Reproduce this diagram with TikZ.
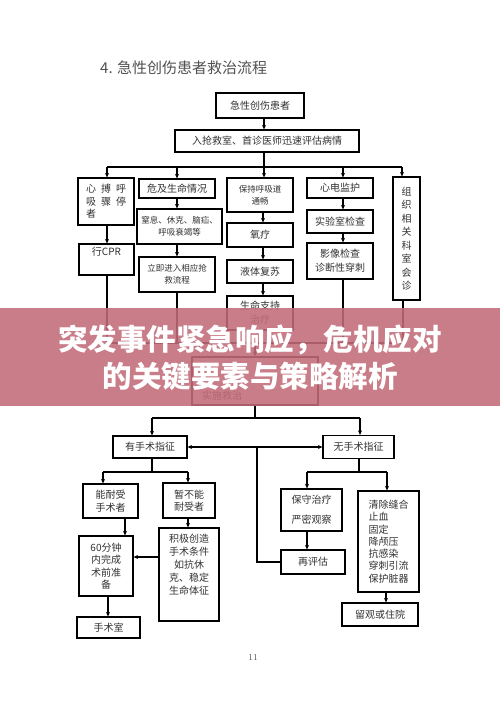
\documentclass[tikz,border=0pt]{standalone}
\usepackage{fontspec}
\newfontfamily\cjk{Noto Sans CJK SC}
\usetikzlibrary{arrows.meta,calc}
\definecolor{txtgray}{RGB}{50,50,50}
\definecolor{bannerc}{RGB}{194,108,120}
\newcommand\mybox[6]{\node[box,minimum width=#4pt,minimum height=#5pt] (#1) at (#2,#3) {#6};}
\begin{document}
\begin{tikzpicture}[x=1pt,y=-1pt,
  box/.style={draw=black,line width=1.15pt,inner sep=0pt,font=\cjk\fontsize{10}{12.5}\selectfont,text=txtgray,align=center},
  txt/.style={inner sep=0pt,font=\cjk\fontsize{10}{12.5}\selectfont,text=txtgray,align=center},
  sm/.style={font=\cjk\fontsize{8.5}{12}\selectfont},
  ln/.style={line width=1.15pt},
  arr/.style={line width=1.15pt,-{Stealth[length=4.5pt,width=4pt]}},
  darr/.style={line width=1.15pt,{Stealth[length=4.5pt,width=4pt]}-{Stealth[length=4.5pt,width=4pt]}}]
\useasboundingbox (0,0) rectangle (500,714);
\fill[white] (0,0) rectangle (500,714);
% title
\node[anchor=west,inner sep=0pt,font=\cjk\fontsize{15}{16}\selectfont,text=black!68] (title) at (100,68) {4. 急性创伤患者救治流程};
% top
\mybox{n1}{260}{105.5}{88}{25}{急性创伤患者}
\mybox{n2}{267}{141}{184}{22}{入抢救室、首诊医师迅速评估病情}
% column 1
\node[box,minimum width=56pt,minimum height=47pt,align=left] (c1a) at (106,201.5) {心\hspace{5pt}搏\hspace{5pt}呼\\吸\hspace{5pt}骤\hspace{5pt}停\\者};
\mybox{c1b}{106.5}{259.5}{55}{31}{}
\node[txt] (c1bt) at (106.5,252) {行CPR};
% column 2
\mybox{c2a}{177}{188.5}{76}{19}{危及生命情况}
\node[box,sm,minimum width=85pt,minimum height=35pt] (c2b) at (179.5,226.5) {窒息、休克、脑疝、\\呼吸衰竭等};
\node[box,sm,minimum width=76pt,minimum height=35pt] (c2c) at (177,274.5) {立即进入相应抢\\救流程};
% column 3
\node[box,sm,minimum width=66pt,minimum height=34pt] (c3a) at (260,195) {保持呼吸道\\通畅};
\mybox{c3b}{260}{235}{66}{24}{氧疗}
\mybox{c3c}{260}{271.5}{66}{23}{液体复苏}
\node[box,minimum width=66pt,minimum height=34pt,font=\cjk\fontsize{10}{14}\selectfont] (c3d) at (260,313) {生命支持\\治疗};
% column 4
\mybox{c4a}{340}{188}{66}{20}{心电监护}
\mybox{c4b}{340}{221.5}{66}{23}{实验室检查}
\node[box,minimum width=66pt,minimum height=36pt,font=\cjk\fontsize{10}{14}\selectfont] (c4c) at (340,261) {影像检查\\诊断性穿刺};
% column 5
\node[box,minimum width=27pt,minimum height=123pt,font=\cjk\fontsize{10}{13.5}\selectfont] (c5) at (406.5,238.5) {组\\织\\相\\关\\科\\室\\会\\诊};
% junction coordinates
\coordinate (k1) at (107,167); \coordinate (k2) at (177,167); \coordinate (k3) at (264,167);
\coordinate (k4) at (343,167); \coordinate (k5) at (402,167);
\draw[ln] (n2.south -| k3) -- (k3);
\draw[arr] (n1.south -| k3) -- (n2.north -| k3);
\draw[ln] (k1) -- (k5);
\draw[arr] (k1) -- (c1a.north -| k1);
\draw[arr] (k2) -- (c2a.north -| k2);
\draw[arr] (k3) -- (c3a.north -| k3);
\draw[arr] (k4) -- (c4a.north -| k4);
\draw[arr] (k5) -- (c5.north -| k5);
\draw[arr] (c1a.south -| k1) -- (c1b.north -| k1);
\draw[arr] (c2a.south -| k2) -- (c2b.north -| k2);
\draw[arr] (c2b.south -| k2) -- (c2c.north -| k2);
\coordinate (k3b) at (263,167);
\draw[arr] (c3a.south -| k3b) -- (c3b.north -| k3b);
\draw[arr] (c3b.south -| k3b) -- (c3c.north -| k3b);
\draw[arr] (c3c.south -| k3b) -- (c3d.north -| k3b);
\draw[arr] (c4a.south -| k4) -- (c4b.north -| k4);
\draw[arr] (c4b.south -| k4) -- (c4c.north -| k4);
% converge
\coordinate (m1) at (107,343); \coordinate (m2) at (177,343); \coordinate (m3) at (262,343);
\coordinate (m4) at (343,343); \coordinate (m5) at (403,343); \coordinate (m0) at (255,343);
\mybox{big}{255}{381}{126}{48}{}
\node[txt] (bigt) at (222,396) {实施救治};
\draw[ln] (c1b.south -| m1) -- (m1);
\draw[ln] (c2c.south -| m2) -- (m2);
\draw[ln] (c3d.south -| m3) -- (m3);
\draw[ln] (c4c.south -| m4) -- (m4);
\draw[ln] (c5.south -| m5) -- (m5);
\draw[ln] (m1) -- (m5);
\draw[arr] (m0) -- (big.north -| m0);
% lower part
\mybox{y1}{150}{447}{74}{22}{有手术指征}
\mybox{w1}{358.5}{447}{71}{23}{无手术指征}
\coordinate (p0) at (255,418); \coordinate (p1) at (152,418); \coordinate (p2) at (360,418);
\draw[ln] (big.south -| p0) -- (p0);
\draw[ln] (p1) -- (p2);
\draw[arr] (p1) -- (y1.north -| p1);
\draw[arr] (p2) -- (w1.north -| p2);
\draw[darr] (y1.east) -- (w1.west);
% left branch
\mybox{ny}{110.5}{501}{55}{34}{能耐受\\手术者}
\mybox{zb}{189}{500.5}{52}{35}{暂不能\\耐受者}
\mybox{m60}{106}{566}{54}{60}{60分钟\\内完成\\术前准\\备}
\mybox{jj}{189}{574.5}{60}{93}{}
\node[txt,font=\cjk\fontsize{10}{13}\selectfont] (jjt) at (189,565) {积极创造\\手术条件\\如抗休\\克、稳定\\生命体征};
\mybox{ss}{108.5}{627.5}{63}{21}{手术室}
\coordinate (r0) at (152,472); \coordinate (r1) at (103,472); \coordinate (r2) at (188,472);
\draw[ln] (y1.south -| r0) -- (r0);
\draw[ln] (r1) -- (r2);
\draw[arr] (r1) -- (ny.north -| r1);
\draw[arr] (r2) -- (zb.north -| r2);
\coordinate (s1) at (125,0); \coordinate (t1) at (0,557); \coordinate (u1) at (108,0);
\draw[arr] (ny.south -| s1) -- (m60.north -| s1);
\draw[arr] (zb.south -| r2) -- (jj.north -| r2);
\draw[arr] (jj.west |- t1) -- (m60.east |- t1);
\draw[arr] (m60.south -| u1) -- (ss.north -| u1);
% right branch
\node[box,minimum width=61pt,minimum height=42pt,font=\cjk\fontsize{10}{20}\selectfont] (bs) at (311.5,510) {保守治疗\\严密观察};
\mybox{zpg}{313}{562}{64}{24}{再评估}
\node[box,minimum width=61pt,minimum height=101pt,align=left,font=\cjk\fontsize{10}{12.3}\selectfont] (qc) at (388.5,541.5) {清除缝合\\止血\\固定\\降颅压\\抗感染\\穿刺引流\\保护脏器};
\mybox{lg}{380}{614.5}{76}{23}{留观或住院}
\coordinate (v0) at (359,472); \coordinate (v1) at (307,472); \coordinate (v2) at (387,472);
\coordinate (w2) at (386,0);
\draw[ln] (w1.south -| v0) -- (v0);
\draw[ln] (v1) -- (v2);
\draw[arr] (v1) -- (bs.north -| v1);
\draw[arr] (v2) -- (qc.north -| v2);
\draw[arr] (bs.south -| v1) -- (zpg.north -| v1);
\draw[arr] (qc.south -| w2) -- (lg.north -| w2);
% re-evaluate loop
\coordinate (q0) at (257,447);
\draw[ln] (q0) -- (q0 |- zpg.west) -- (zpg.west);
% page number
\node[inner sep=0pt,font=\fontsize{9}{10}\selectfont,text=black!70] (pg) at (253,657) {11};
% banner
\fill[bannerc,opacity=0.88] (0,308) rectangle (500,406);
\node[inner sep=0pt,align=center,text=white,font=\cjk\bfseries\fontsize{29.5}{37}\selectfont] (bt) at (250,357.5) {突发事件紧急响应，危机应对\\的关键要素与策略解析};
\end{tikzpicture}
\end{document}
